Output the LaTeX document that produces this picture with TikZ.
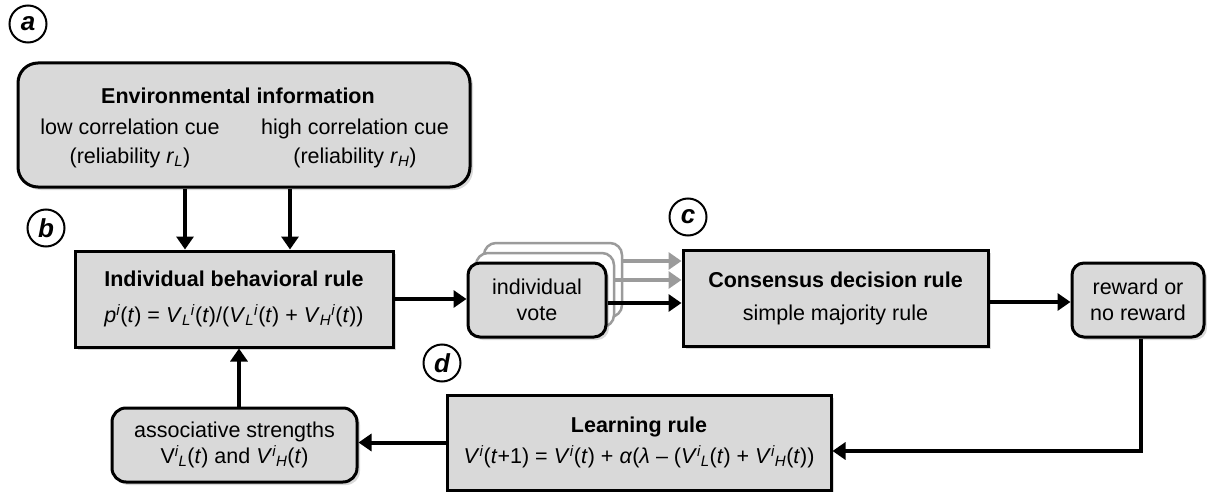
\documentclass[tikz,border=0pt]{standalone}
\usepackage{fontspec}
\setmainfont{Liberation Sans}
\usetikzlibrary{arrows.meta,positioning,shadows}
\definecolor{boxgray}{RGB}{217,217,217}
\definecolor{backgray}{RGB}{155,155,155}
\newcommand{\mi}[1]{\textit{#1}}
\newcommand{\supsub}[2]{\textsuperscript{\mi{#1}}\kern-0.5pt\textsubscript{\mi{#2}}}

\begin{document}
\begin{tikzpicture}[
    x=1pt, y=-1pt,
    font=\fontsize{21.5}{26}\selectfont,
    box/.style={draw, line width=3pt, fill=boxgray, inner sep=0pt, align=center,
      drop shadow={shadow xshift=3pt, shadow yshift=-3pt, opacity=0.3}},
    rbox/.style={box, rounded corners=12pt},
    back/.style={draw=backgray, line width=2.5pt, fill=white, rounded corners=12pt,
      minimum width=138pt, minimum height=74pt},
    arrow/.style={-{Triangle[length=13pt,width=17pt]}, line width=4pt},
    tag/.style={circle, draw, line width=2pt, minimum size=37pt, inner sep=0pt,
      font=\fontsize{26}{26}\selectfont\bfseries\itshape}
  ]
  \useasboundingbox (0,0) rectangle (1207,492);

  % Environment box
  \node[box, rounded corners=20pt, minimum width=452pt, minimum height=124pt] (E) at (244,125) {};
  \node (Et) at (238,96) {\textbf{Environmental information}};
  \node[align=center] (El) at (130,143) {low correlation cue\\[3pt](reliability \mi{r}\textsubscript{\mi{L}})};
  \node[align=center] (Eh) at (355,143) {high correlation cue\\[3pt](reliability \mi{r}\textsubscript{\mi{H}})};

  % Individual rule
  \node[box, minimum width=318pt, minimum height=96pt] (IB) at (234,299)
    {\textbf{Individual behavioral rule}\\[10pt]
     \mi{p}\textsuperscript{\mi{i}}(\mi{t}) = \mi{V}\textsubscript{\mi{L}}\textsuperscript{\mi{i}}(\mi{t})/(\mi{V}\textsubscript{\mi{L}}\textsuperscript{\mi{i}}(\mi{t}) + \mi{V}\textsubscript{\mi{H}}\textsuperscript{\mi{i}}(\mi{t}))};

  % Votes - stacked copies behind
  \node[back] (V3) at (553,280) {};
  \node[back] (V2) at (545,290) {};
  \node[rbox, minimum width=138pt, minimum height=74pt] (V) at (537,300) {individual\\vote};

  % Group decision and outcome
  \node[box, minimum width=305pt, minimum height=96pt] (CD) at (835.5,298)
    {\textbf{Consensus decision rule}\\[7pt]simple majority rule};
  \node[rbox, minimum width=132pt, minimum height=74pt] (R) at (1138,300) {reward or\\no reward};

  % Learning
  \node[box, minimum width=384pt, minimum height=95pt] (LR) at (639,442.5)
    {\textbf{Learning rule}\\[5pt]
     \mi{V}\textsuperscript{\mi{i}}(\mi{t}+1) = \mi{V}\textsuperscript{\mi{i}}(\mi{t}) + \mi{α}(\mi{λ} – (\mi{V}\supsub{i}{L}(\mi{t}) + \mi{V}\supsub{i}{H}(\mi{t}))};
  \node[rbox, rounded corners=14pt, minimum width=245pt, minimum height=74pt] (AS) at (234.5,445)
    {associative strengths\\V\supsub{i}{L}(\mi{t}) and \mi{V}\supsub{i}{H}(\mi{t})};

  % Panel tags
  \node[tag] (a) at (28,24) {a};
  \node[tag] (b) at (46,228) {b};
  \node[tag] (c) at (688,217) {c};
  \node[tag] (d) at (442,363) {d};

  % Connectors
  \draw[arrow] ([xshift=-59pt]E.south) -- ([xshift=-59pt]E.south |- IB.north);
  \draw[arrow] ([xshift=46pt]E.south) -- ([xshift=46pt]E.south |- IB.north);
  \draw[arrow] (IB.east) -- (IB.east -| V.west);
  \draw[arrow, backgray] ([yshift=19pt]V3.east) -- ([yshift=19pt]V3.east -| CD.west);
  \draw[arrow, backgray] ([yshift=10pt]V2.east) -- ([yshift=10pt]V2.east -| CD.west);
  \draw[arrow] ([yshift=-3pt]V.east) -- ([yshift=-3pt]V.east -| CD.west);
  \draw[arrow] ([yshift=-4pt]CD.east) -- ([yshift=-4pt]CD.east -| R.west);
  \draw[arrow] ([xshift=3pt]R.south) |- ([yshift=-8.5pt]LR.east);
  \draw[arrow] (LR.west) -- (LR.west -| AS.east);
  \draw[arrow] ([xshift=4.5pt]AS.north) -- ([xshift=4.5pt]AS.north |- IB.south);

\end{tikzpicture}
\end{document}
